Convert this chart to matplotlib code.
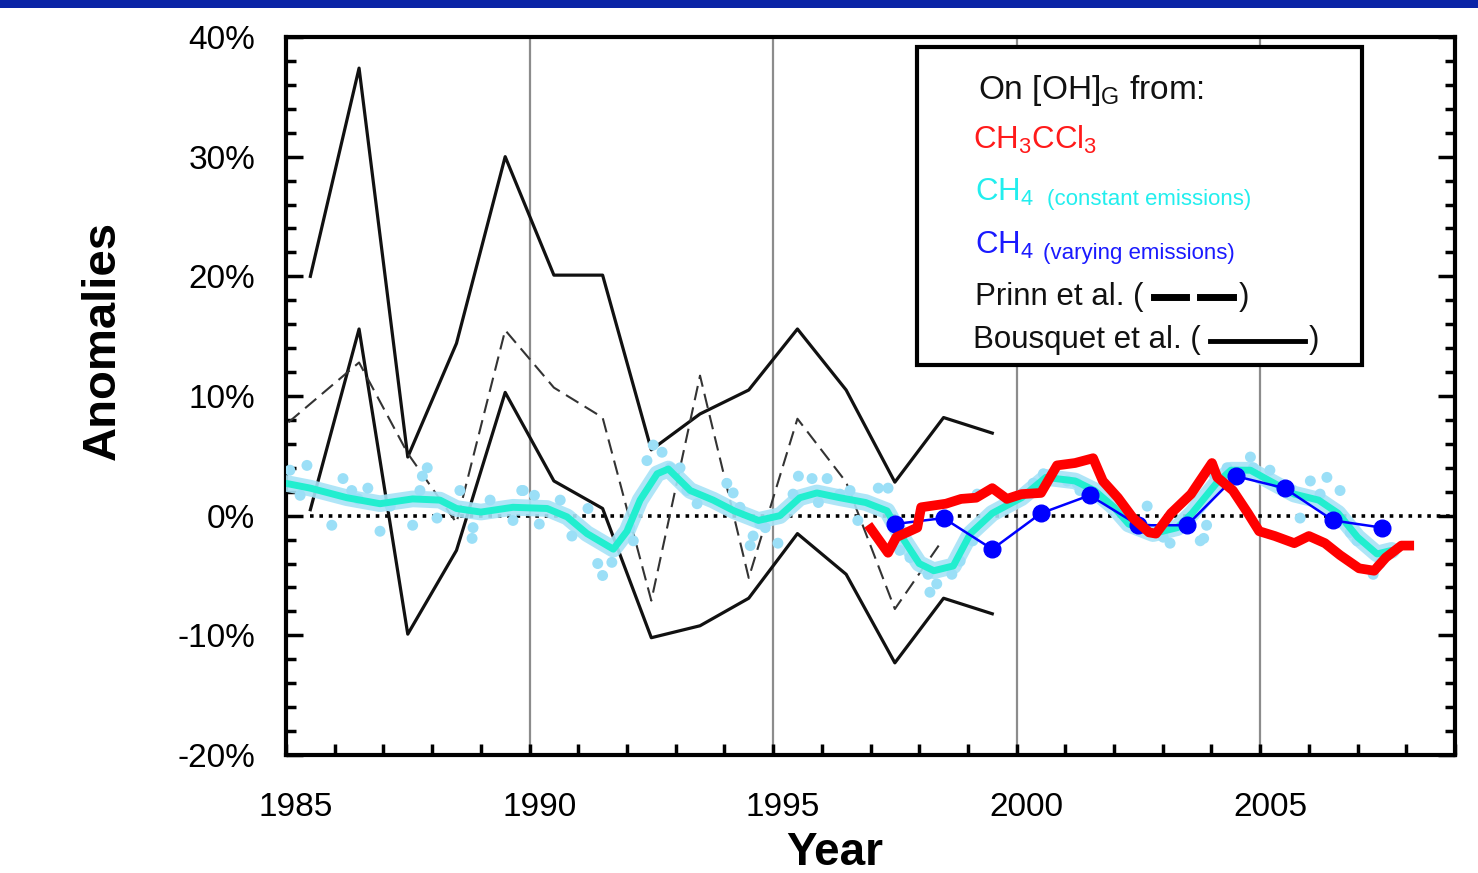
import matplotlib
matplotlib.use("Agg")
import matplotlib.pyplot as plt
from matplotlib.patches import Rectangle
from matplotlib.transforms import ScaledTranslation

plt.rcParams['font.family'] = ['Liberation Sans', 'DejaVu Sans']
plt.rcParams['mathtext.fontset'] = 'custom'
plt.rcParams['mathtext.rm'] = 'Liberation Sans'
plt.rcParams['mathtext.it'] = 'Liberation Sans'

# Bousquet et al. (upper / lower envelope), yearly
bous_years = [1985.5, 1986.5, 1987.5, 1988.5, 1989.5, 1990.5, 1991.5, 1992.5,
              1993.5, 1994.5, 1995.5, 1996.5, 1997.5, 1998.5, 1999.5]
bous_upper = [20.0, 37.4, 4.9, 14.4, 30.0, 20.1, 20.1, 5.5, 8.5, 10.5, 15.6, 10.5, 2.8, 8.2, 6.9]
bous_lower = [0.5, 15.6, -9.9, -2.9, 10.3, 2.9, 0.6, -10.2, -9.2, -6.9, -1.5, -4.9, -12.3, -6.9, -8.2]

# Prinn et al. (dashed)
prinn_years = [1985.05, 1986.5, 1987.5, 1988.5, 1989.5, 1990.5, 1991.5, 1992.5,
               1993.5, 1994.5, 1995.5, 1996.5, 1997.5, 1998.4]
prinn_vals = [7.8, 12.8, 5.2, -0.6, 15.5, 10.7, 8.2, -7.1, 11.7, -5.2, 8.1, 2.8, -7.8, -2.5]

# CH4 constant emissions, smoothed line
ch4c_years = [1985.0, 1985.5, 1986.25, 1986.93, 1987.6, 1988.16, 1988.5, 1989.0, 1989.66,
              1990.36, 1990.77, 1991.18, 1991.72, 1992.0, 1992.27, 1992.62, 1992.85, 1993.0,
              1993.3, 1993.77, 1994.2, 1994.7, 1995.14, 1995.55, 1995.9, 1996.37, 1996.9,
              1997.34, 1997.6, 1998.0, 1998.3, 1998.7, 1999.05, 1999.5, 2000.1, 2000.6,
              2001.2, 2001.6, 2002.0, 2002.3, 2002.8, 2003.3, 2003.6, 2004.1, 2004.4,
              2004.8, 2005.2, 2005.7, 2006.2, 2006.6, 2007.0, 2007.4, 2007.7]
ch4c_vals = [2.7, 2.3, 1.5, 1.0, 1.4, 1.3, 0.6, 0.3, 0.7,
             0.6, -0.1, -1.5, -2.8, -1.3, 1.3, 3.5, 3.9, 3.3,
             2.1, 1.3, 0.4, -0.4, 0.0, 1.5, 1.9, 1.5, 1.1,
             0.4, -1.5, -4.0, -4.6, -4.2, -1.5, 0.2, 1.5, 3.2,
             2.9, 2.1, 0.7, -0.7, -1.5, -1.0, 0.2, 2.7, 3.8,
             3.8, 2.9, 1.8, 1.3, 0.2, -1.8, -3.2, -2.9]

dot_years = [1985.08, 1985.43, 1985.29, 1985.94, 1986.17, 1986.35, 1986.68, 1986.48, 1986.93,
             1987.14, 1987.6, 1987.75, 1987.9, 1987.8, 1988.1, 1988.57, 1988.84, 1988.82,
             1989.19, 1989.66, 1989.84, 1989.87, 1990.1, 1990.2, 1990.63, 1990.87, 1991.2,
             1991.4, 1991.5, 1991.69, 1992.06, 1992.13, 1992.41, 1992.54, 1992.72, 1992.89,
             1993.09, 1993.23, 1993.44, 1994.05, 1994.18, 1994.32, 1994.59, 1994.53, 1994.73,
             1994.84, 1995.1, 1995.41, 1995.52, 1995.8, 1996.11, 1995.93, 1996.37, 1996.58,
             1996.74, 1997.16, 1997.36, 1997.6, 1997.81, 1998.18, 1998.22, 1998.36, 1998.67,
             1998.84, 1999.1, 1999.19, 2000.34, 2000.55, 2001.04, 2001.24, 2001.3, 2002.68,
             2003.01, 2003.15, 2003.77, 2003.9, 2004.04, 2003.84, 2004.32, 2004.8, 2004.86,
             2005.2, 2006.03, 2006.37, 2006.64, 2006.23, 2005.82, 2006.85, 2006.99, 2007.32,
             2007.46]
dot_vals = [3.8, 4.2, 1.7, -0.8, 3.1, 2.1, 2.3, 1.4, -1.3,
            0.8, -0.8, 2.1, 4.0, 3.3, -0.2, 2.1, -1.0, -1.9,
            1.3, -0.4, 2.1, 2.1, 1.7, -0.7, 1.3, -1.7, 0.6,
            -4.0, -5.0, -3.9, -1.0, -2.1, 4.6, 5.9, 5.3, 4.0,
            4.0, 2.1, 1.0, 2.7, 1.9, 0.7, -1.7, -2.5, -0.7,
            -1.0, -2.3, 1.8, 3.3, 3.1, 3.1, 1.1, 1.8, 2.1,
            -0.4, 2.3, 2.3, -2.9, -3.5, -4.9, -6.4, -5.7, -4.9,
            -3.8, -2.1, 1.8, 2.7, 3.5, 2.9, 2.7, 2.1, 0.8,
            -1.8, -2.3, -2.1, -0.8, 3.5, -1.9, 4.0, 4.9, 4.0,
            3.8, 2.9, 3.2, 2.1, 1.8, -0.2, -1.4, -2.1, -4.9,
            -4.0]

# CH4 varying emissions, yearly
ch4v_years = [1997.5, 1998.5, 1999.5, 2000.5, 2001.5, 2002.5, 2003.5, 2004.5, 2005.5, 2006.5, 2007.5]
ch4v_vals = [-0.7, -0.2, -2.8, 0.2, 1.7, -0.8, -0.8, 3.3, 2.3, -0.4, -1.0]

# CH3CCl3
mcf_years = [1997.01, 1997.36, 1997.53, 1997.96, 1998.04, 1998.55, 1998.86, 1999.17, 1999.5,
             1999.8, 2000.1, 2000.5, 2000.83, 2001.2, 2001.57, 2001.77, 2002.08, 2002.39,
             2002.72, 2002.86, 2003.17, 2003.58, 2004.01, 2004.12, 2004.44, 2004.75, 2004.98,
             2005.3, 2005.7, 2006.0, 2006.33, 2006.64, 2007.03, 2007.34, 2007.58, 2007.9, 2008.06]
mcf_vals = [-1.1, -3.1, -1.8, -1.0, 0.7, 1.0, 1.4, 1.5, 2.3,
            1.4, 1.8, 1.9, 4.2, 4.4, 4.8, 2.9, 1.5, -0.2,
            -1.4, -1.5, 0.2, 1.8, 4.4, 3.2, 2.1, 0.2, -1.3,
            -1.7, -2.3, -1.7, -2.3, -3.3, -4.4, -4.6, -3.5, -2.5, -2.5]

ytick_vals = [-20, -10, 0, 10, 20, 30, 40]
ytick_labels = ['-20%', '-10%', '0%', '10%', '20%', '30%', '40%']
xtick_vals = [1985, 1990, 1995, 2000, 2005]

W, H = 1478, 873
fig = plt.figure(figsize=(W / 100, H / 100), dpi=100)
ax = fig.add_axes([286 / W, 1 - 755 / H, (1455 - 286) / W, (755 - 37) / H])
ax.set_xlim(1985, 2009)
ax.set_ylim(-20, 40)


def fx(px):
    return px / W


def fy(py):
    return 1 - py / H


# top blue band
fig.patches.append(Rectangle((0, fy(8)), 1, 8 / H, transform=fig.transFigure,
                             facecolor='#0A24A6', edgecolor='none'))

for yr in [1990, 1995, 2000, 2005]:
    ax.axvline(yr, color='#8c8c8c', lw=1.6, zorder=1)
ax.plot([1985.5, 2009], [0, 0], color='black', lw=2.6, ls=(0, (1, 1.6)), zorder=2)

ax.plot(bous_years, bous_upper, color='#111111', lw=2.3, zorder=3)
ax.plot(bous_years, bous_lower, color='#111111', lw=2.3, zorder=3)
ax.plot(prinn_years, prinn_vals, color='#333333', lw=1.5, dashes=(7, 3.5), zorder=3)

ax.plot(ch4c_years, ch4c_vals, color='#a6e3f7', lw=12, alpha=0.9, zorder=4,
        solid_capstyle='round', solid_joinstyle='round')
ax.scatter(dot_years, dot_vals, s=62, color='#9bdff7', edgecolors='none', zorder=4)
ax.plot(ch4c_years, ch4c_vals, color='#22eecf', lw=5, zorder=5,
        solid_capstyle='round', solid_joinstyle='round')

ax.plot(ch4v_years, ch4v_vals, color='#0000ff', lw=1.8, marker='o', ms=12,
        markeredgecolor='#0000ff', zorder=6)
ax.plot(mcf_years, mcf_vals, color='#ff0000', lw=7, zorder=7, solid_joinstyle='round')

for s in ax.spines.values():
    s.set_linewidth(3)
ax.set_yticks(ytick_vals)
ax.set_yticklabels(ytick_labels, fontsize=24)
ax.set_yticks(range(-20, 41, 2), minor=True)
ax.set_xticks(xtick_vals)
ax.set_xticklabels([str(v) for v in xtick_vals], fontsize=24)
ax.set_xticks(range(1985, 2010), minor=True)
ax.tick_params(axis='y', which='both', direction='in', right=True, width=2.5, pad=22)
ax.tick_params(axis='y', which='major', length=12)
ax.tick_params(axis='y', which='minor', length=7)
ax.tick_params(axis='x', which='both', direction='in', length=8, width=2.5, pad=27)
for lab in ax.get_xticklabels():
    lab.set_transform(lab.get_transform() + ScaledTranslation(0.1, 0, fig.dpi_scale_trans))

fig.text(fx(835), fy(853), 'Year', fontsize=33, fontweight='bold', ha='center', va='center')
fig.text(fx(103), fy(340), 'Anomalies', fontsize=34, fontweight='bold', rotation=90,
         ha='center', va='center')

# legend box
fig.patches.append(Rectangle((fx(917), fy(365)), (1362 - 917) / W, (365 - 47) / H,
                             transform=fig.transFigure, facecolor='white',
                             edgecolor='black', lw=3, zorder=10))
tk = dict(fontsize=22.5, va='center', ha='left', zorder=11)
fig.text(fx(978), fy(90), r'On [OH]$_\mathrm{G}$ from:', color='#111111',
         fontsize=24, va='center', ha='left', zorder=11)
fig.text(fx(973), fy(140), r'CH$_3$CCl$_3$', color='#ff1a1a', **tk)
fig.text(fx(975), fy(192), r'CH$_4$', color='#22eeee', **tk)
fig.text(fx(1047), fy(200), '(constant emissions)', color='#22eeee', fontsize=16,
         va='center', ha='left', zorder=11)
fig.text(fx(975), fy(245), r'CH$_4$', color='#1a1aff', **tk)
fig.text(fx(1043), fy(253), '(varying emissions)', color='#1a1aff', fontsize=16,
         va='center', ha='left', zorder=11)
fig.text(fx(975), fy(297), 'Prinn et al. (', color='#111111', **tk)
fig.text(fx(1239), fy(297), ')', color='#111111', **tk)
fig.text(fx(973), fy(340), 'Bousquet et al. (', color='#111111', **tk)
fig.text(fx(1309), fy(340), ')', color='#111111', **tk)
for x0, x1 in [(1154, 1186), (1200, 1233)]:
    fig.lines.append(plt.Line2D([fx(x0), fx(x1)], [fy(297), fy(297)],
                                transform=fig.transFigure, color='black', lw=5, zorder=11))
fig.lines.append(plt.Line2D([fx(1210), fx(1305)], [fy(341), fy(341)], transform=fig.transFigure,
                            color='black', lw=3.5, zorder=11))

fig.savefig('out.png', dpi=100)
